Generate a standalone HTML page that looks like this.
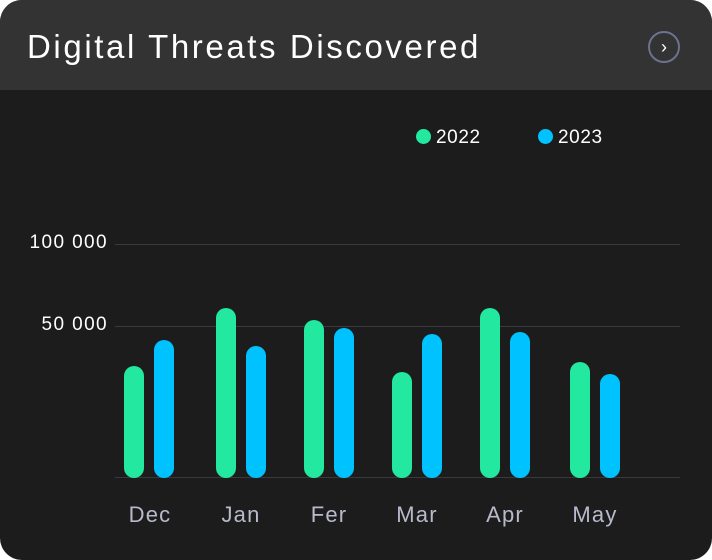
<!DOCTYPE html>
<html><head><style>
body{margin:0;background:#fff;}
.card{position:absolute;left:0;top:0;width:712px;height:560px;border-radius:22px;background:#1c1c1c;overflow:hidden;font-family:"Liberation Sans",sans-serif;}
.hd{position:absolute;left:0;top:0;width:712px;height:90px;background:#333333;}
.t{position:absolute;left:27px;top:28px;color:#fff;font-size:33px;letter-spacing:2.6px;white-space:nowrap;}
.ic{position:absolute;left:648px;top:31px;width:28px;height:28px;border:2px solid #6e7190;border-radius:50%;color:#fff;font-size:18px;line-height:28px;text-align:center;}
.g{position:absolute;left:115px;width:565px;height:1px;background:#3a3a3e;}
.yl{position:absolute;color:#fff;font-size:19px;text-align:right;width:100px;letter-spacing:1.4px;}
.b{position:absolute;width:20px;border-radius:10px;bottom:82px;}
.gr{background:#22e8a0}.bl{background:#00c2ff}
.xl{position:absolute;top:502px;color:#b8bacc;font-size:22px;width:80px;text-align:center;letter-spacing:1.2px;}
.lg{position:absolute;top:127px;color:#fff;font-size:19px;letter-spacing:0.6px;}
.dot{display:inline-block;width:15px;height:15px;border-radius:50%;vertical-align:-1px;margin-right:5px;}
</style></head><body><div class="card">
<div class="hd"><div class="t">Digital Threats Discovered</div><div class="ic">&#8250;</div></div>
<div class="lg" style="left:416px"><span class="dot gr"></span>2022</div>
<div class="lg" style="left:538px"><span class="dot bl"></span>2023</div>
<div class="g" style="top:244px"></div><div class="g" style="top:326px"></div><div class="g" style="top:477px"></div>
<div class="yl" style="left:8px;top:232px">100 000</div>
<div class="yl" style="left:8px;top:314px">50 000</div>
<div class="b gr" style="left:124px;top:366px"></div><div class="b bl" style="left:154px;top:340px"></div>
<div class="b gr" style="left:216px;top:308px"></div><div class="b bl" style="left:246px;top:346px"></div>
<div class="b gr" style="left:304px;top:320px"></div><div class="b bl" style="left:334px;top:328px"></div>
<div class="b gr" style="left:392px;top:372px"></div><div class="b bl" style="left:422px;top:334px"></div>
<div class="b gr" style="left:480px;top:308px"></div><div class="b bl" style="left:510px;top:332px"></div>
<div class="b gr" style="left:570px;top:362px"></div><div class="b bl" style="left:600px;top:374px"></div>
<div class="xl" style="left:110px">Dec</div>
<div class="xl" style="left:201px">Jan</div>
<div class="xl" style="left:289px">Fer</div>
<div class="xl" style="left:377px">Mar</div>
<div class="xl" style="left:465px">Apr</div>
<div class="xl" style="left:555px">May</div>
</div></body></html>
